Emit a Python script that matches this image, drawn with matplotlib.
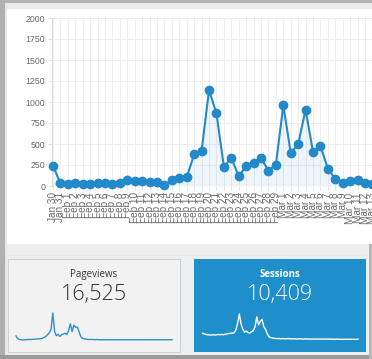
import matplotlib
matplotlib.use("Agg")
import matplotlib.pyplot as plt
from matplotlib.patches import Rectangle
import numpy as np

# ---------------- data ----------------
dates = (["Jan 30", "Jan 31"] + [f"Feb {d}" for d in range(1, 30)]
         + [f"Mar {d}" for d in range(1, 14)])
sessions = [240, 32, 20, 40, 28, 28, 36, 32, 20, 40, 71, 60, 64, 44, 48, 16,
            71, 99, 103, 377, 420, 1140, 865, 226, 337, 115, 238, 274, 329,
            183, 254, 960, 393, 500, 909, 401, 476, 206, 83, 40, 64, 67, 40, 24]
y_ticks = [0, 250, 500, 750, 1000, 1250, 1500, 1750, 2000]

# sparklines (relative height, 90 days)
pageviews_spark = [15, 5, 2, 1, 0, 1, 1, 2, 2, 2, 3, 3, 4, 4, 5, 6, 10, 13, 20,
                   26, 40, 100, 32, 16, 21, 13, 20, 22, 25, 20, 35, 60, 31, 55,
                   47, 48, 30, 12, 6, 4, 3, 2, 2, 2, 2, 1, 2, 1, 1, 1, 1, 1, 1,
                   1, 1, 1, 1, 1, 1, 1, 1, 1, 1, 1, 1, 1, 1, 1, 1, 1, 1, 1, 1,
                   1, 1, 1, 1, 1, 1, 1, 1, 1, 1, 1, 1, 1, 1, 1, 1, 1]
sessions_spark = [24, 21, 19, 18, 17, 17, 18, 17, 18, 19, 18, 19, 18, 20, 21,
                  23, 24, 24, 26, 37, 63, 100, 60, 40, 28, 33, 26, 25, 30, 34,
                  50, 89, 57, 70, 79, 50, 40, 22, 10, 7, 5, 4, 3, 3, 3, 2, 3, 2,
                  2, 3, 2, 2, 2, 2, 1, 2, 2, 1, 1, 2, 1, 1, 1, 1, 1, 1, 1, 1, 1,
                  1, 1, 1, 1, 0, 1, 0, 0, 1, 0, 0, 0, 0, 0, 0, 0, 0, 0, 0, 0, 0]
card_titles = ["Pageviews", "Sessions"]
card_values = ["16,525", "10,409"]

# ---------------- figure ----------------
W, H = 372, 359
fig = plt.figure(figsize=(W / 100, H / 100), dpi=100)
fig.patch.set_facecolor("#eceef0")

bg = fig.add_axes([0, 0, 1, 1], zorder=0)
bg.set_xlim(0, W)
bg.set_ylim(H, 0)
bg.axis("off")

def rect(x0, y0, x1, y1, fc, ec="none", lw=0):
    bg.add_patch(Rectangle((x0, y0), x1 - x0, y1 - y0, facecolor=fc,
                           edgecolor=ec, linewidth=lw))

# outer frame
rect(0, 0, W, 3, "#b4b4b4")
rect(0, 3, W, 9, "#e9eaeb")
rect(0, 0, 5, H, "#b0b0b0")
rect(5, 3, 7, H, "#e6e7e8")
rect(0, 355, W, H, "#9a9a9a")
rect(369, 244, W, H, "#b8b8b8")
# white chart panel
rect(7, 9, W, 244, "#ffffff")
# lower area
rect(7, 244, 369, 355, "#eceef0")
bg.plot([9, 366], [255, 255], color="#d9dcde", lw=0.6, ls=(0, (1, 2)))
# cards
rect(7.5, 259, 180, 352, "#f2f2f2", ec="#d2d2d2", lw=0.8)
rect(193.5, 259, 366, 352, "#1f8fcb")

# card texts
card_x = [94, 280]
card_col = ["#333333", "#ffffff"]
for cx, t, v, c, wt in zip(card_x, card_titles, card_values, card_col,
                           ["normal", "bold"]):
    bg.text(cx, 274.5, t, ha="center", va="center", fontsize=7,
            family="Open Sans", color=c, fontweight=wt)
    bg.text(cx, 294.5, v, ha="center", va="center", fontsize=15.5,
            family="Open Sans", color=c, fontweight="light")

# ---------------- main chart ----------------
line_col = "#2389c9"
ax = fig.add_axes([52 / W, (H - 186) / H, 321 / W, 168 / H], zorder=2)
ax.patch.set_alpha(0)
x = np.arange(len(sessions))
ax.fill_between(x, sessions, 0, color=line_col, alpha=0.07, lw=0)
ax.plot(x, sessions, color=line_col, lw=1.5, marker="o", ms=6,
        mec=line_col, mfc=line_col, clip_on=False, zorder=3)
ax.set_xlim(-0.135, 43.07)
ax.set_ylim(0, 2000)
ax.set_yticks(y_ticks)
ax.set_yticklabels([str(v) for v in y_ticks])
ax.set_xticks(x)
ax.set_xticklabels(dates, rotation=90)
ax.grid(True, color="#eeeeee", lw=0.7)
ax.set_axisbelow(True)
for s in ["top", "right", "bottom"]:
    ax.spines[s].set_visible(False)
ax.spines["left"].set_color("#dddddd")
ax.spines["left"].set_linewidth(0.8)
ax.tick_params(axis="both", colors="#e6e6e6", length=3, width=0.7,
               labelcolor="#6a6a6a", labelsize=6.3, pad=2)
ax.tick_params(axis="x", pad=1.5, labelsize=7.2)
for lab in ax.get_xticklabels() + ax.get_yticklabels():
    lab.set_family("Liberation Sans")

# ---------------- sparklines ----------------
def spark(x0, x1, ytop, ybase, data, col):
    a = fig.add_axes([x0 / W, (H - ybase) / H, (x1 - x0) / W,
                      (ybase - ytop) / H], zorder=3)
    a.plot(np.arange(len(data)), data, color=col, lw=1.0, clip_on=False)
    a.set_xlim(0, len(data) - 1)
    a.set_ylim(0, 100)
    a.axis("off")

spark(16, 172, 313, 340, pageviews_spark, "#2b90cc")
spark(202.7, 358, 314, 339.3, sessions_spark, "#ffffff")

fig.savefig("out.png", dpi=100)
